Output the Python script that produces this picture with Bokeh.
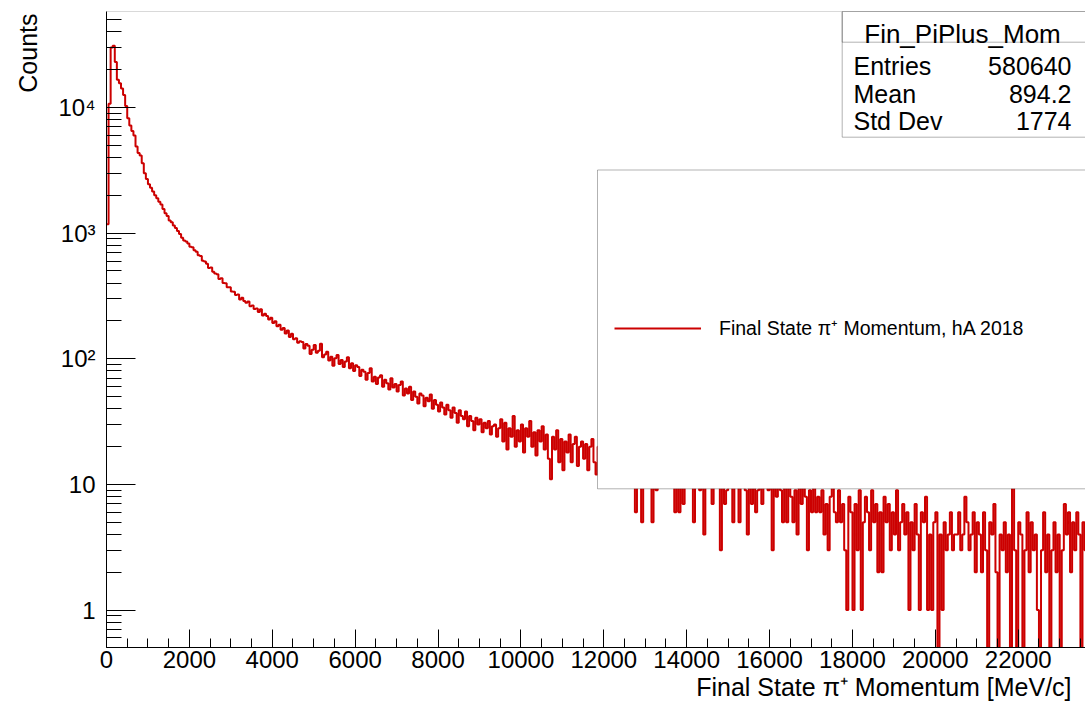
import numpy as np
from bokeh.plotting import figure
from bokeh.models import (Range1d, FixedTicker, SingleIntervalTicker, BoxAnnotation,
                          Label, Legend, LegendItem, Title)
from bokeh.embed import file_html
from bokeh.resources import INLINE

# ---- histogram: final-state pi+ momentum, 50 MeV/c bins starting at 0 ----
bin_width = 50
x_max = 23623
y_min, y_max = 0.504, 58100

# 0 - 1800 MeV/c
counts_peak = [1180, 10700, 30000, 31000, 23000, 16600, 15600, 14200, 12600, 10300,
               8200, 7200, 6500, 6000, 4900, 4350, 4150, 3600, 3000, 2700,
               2450, 2300, 2150, 2000, 1900, 1780, 1690, 1560, 1440, 1370,
               1260, 1220, 1150, 1100, 1040, 985]
# 1800 - 4700 MeV/c
counts_falloff = [918, 874, 858, 826, 781, 772, 731, 712, 668, 659,
                  603, 596, 571, 529, 534, 492, 478, 471, 431, 437,
                  402, 399, 372, 371, 343, 341, 322, 325, 297, 306,
                  288, 279, 286, 262, 266, 249, 252, 236, 248, 221,
                  228, 219, 206, 212, 193, 199, 182, 187, 170, 176,
                  159, 168, 149, 158, 143, 146, 134, 138]
# 4700 - 9500 MeV/c
counts_mid = [136, 121, 131, 127, 109, 118, 129, 112, 116, 132,
              103, 108, 114, 97, 104, 88, 101, 107, 91, 98,
              86, 95, 103, 84, 92, 80, 89, 86, 73, 82,
              79, 68, 77, 84, 66, 72, 63, 71, 74, 60,
              68, 64, 57, 70, 59, 63, 55, 62, 66, 51,
              58, 53, 60, 47, 55, 50, 44, 53, 51, 42,
              49, 46, 52, 40, 47, 43, 38, 45, 41, 36,
              43, 39, 34, 41, 37, 31, 39, 35, 33, 38,
              29, 35, 32, 27, 34, 30, 33, 26, 31, 28,
              32, 25, 29, 30, 24, 28]
# 9500 - 12900 MeV/c
counts_shoulder = [33, 22, 31, 19, 28, 24, 35, 20, 27, 22,
                   30, 18, 28, 24, 32, 20, 26, 17, 27, 22,
                   29, 19, 25, 16, 11, 24, 19, 27, 15, 23,
                   13, 22, 18, 25, 15, 21, 24, 14, 20, 22,
                   16, 21, 13, 20, 23, 15, 12, 20, 16, 22,
                   14, 19, 21, 13, 17, 20, 12, 16, 19, 14,
                   18, 11, 16, 20, 13, 6, 15, 13]
# 12900 - 23650 MeV/c
counts_tail = [5, 13, 16, 11, 14, 5, 12, 9, 15, 12,
               17, 11, 13, 10, 14, 12, 6, 11, 6, 13,
               7, 12, 15, 10, 13, 5, 11, 14, 9, 12,
               4, 11, 13, 10, 7, 12, 14, 10, 3, 11,
               7, 9, 12, 10, 5, 13, 11, 5, 10, 12,
               9, 4, 11, 7, 10, 6, 9, 12, 7, 10,
               13, 9, 11, 3, 10, 8, 12, 9, 5, 10,
               5, 11, 8, 5, 9, 4, 10, 7, 11, 8,
               3, 9, 6, 10, 6, 8, 6, 9, 4, 7,
               3, 8, 10, 6, 5, 9, 5, 7, 3, 1,
               8, 6, 1, 7, 3, 9, 1, 5, 8, 6,
               3, 9, 5, 7, 2, 6, 2, 8, 5, 7,
               3, 6, 4, 9, 3, 5, 7, 4, 6, 1,
               5, 3, 7, 4, 1, 6, 5, 8, 1, 4,
               1, 5, 6, 0, 4, 1, 5, 3, 4, 6,
               3, 4, 4, 6, 3, 4, 8, 5, 3, 4,
               6, 2, 5, 4, 2, 6, 3, 0, 5, 4,
               7, 2, 0, 4, 3, 5, 2, 4, 0, 10,
               3, 0, 5, 4, 0, 3, 6, 2, 5, 3,
               4, 1, 0, 3, 6, 2, 4, 0, 3, 5,
               2, 4, 0, 3, 7, 4, 6, 2, 5, 3,
               6, 4, 0, 5, 3]

hist_name = "Fin_PiPlus_Mom"
stat_names = ["Entries", "Mean", "Std Dev"]
stat_values = ["580640", "894.2", "1774"]
legend_label = "Final State \u03c0\u207a Momentum, hA 2018"
x_title = "Final State  \u03c0\u207a Momentum [MeV/c]"
y_title = "Counts"
y_major = [1, 10, 100, 1000, 10000]
y_major_labels = ["1", "10", "10\u00b2", "10\u00b3", "10\u2074"]

FONT = "Liberation Sans"
RED = "#cc0000"

counts = np.array(counts_peak + counts_falloff + counts_mid + counts_shoulder + counts_tail,
                  dtype=float)
edges = np.arange(len(counts) + 1) * bin_width
# empty bins drop below the bottom of the log frame
shown = np.where(counts > 0, counts, y_min / 10)
ys = np.append(shown, shown[-1])

# ---- canvas and frame geometry (pixels) ----
W, H = 1085, 705
LEFT, RIGHT, TOP, BOTTOM = 106, 0, 11, 58
FW, FH = W - LEFT - RIGHT, H - TOP - BOTTOM


def fx(cx):
    """canvas x -> frame-relative screen x"""
    return cx - LEFT


def fy(cy):
    """canvas y (from top) -> frame-relative screen y (from frame bottom)"""
    return (H - BOTTOM) - cy


p = figure(width=W, height=H, x_range=Range1d(0, x_max), y_range=Range1d(y_min, y_max),
           y_axis_type="log", output_backend="svg", toolbar_location=None,
           min_border_left=LEFT, min_border_right=RIGHT, min_border_top=TOP,
           min_border_bottom=BOTTOM)
p.outline_line_color = None
p.grid.visible = False
p.background_fill_color = "white"
p.border_fill_color = "white"

hist = p.step(x=edges, y=ys, mode="after", line_color=RED, line_width=2)

# ---- axes: ticks point into the frame ----
xa = p.xaxis[0]
xa.ticker = SingleIntervalTicker(interval=2000, num_minor_ticks=4)
xa.major_tick_in, xa.major_tick_out = 18, 0
xa.minor_tick_in, xa.minor_tick_out = 9, 0
xa.major_label_standoff = 3
xa.major_label_text_font = FONT
xa.major_label_text_font_size = "24px"
xa.major_label_text_color = "black"
xa.axis_line_color = "black"
xa.major_tick_line_color = "black"
xa.minor_tick_line_color = "black"

y_minor = [m * 10.0 ** k for k in range(-1, 5) for m in range(2, 10)]
ya = p.yaxis[0]
ya.ticker = FixedTicker(ticks=y_major, minor_ticks=y_minor)
ya.major_label_overrides = dict(zip(y_major, y_major_labels))
ya.major_tick_in, ya.major_tick_out = 29, 0
ya.minor_tick_in, ya.minor_tick_out = 15, 0
ya.major_label_standoff = 11
ya.major_label_text_font = FONT
ya.major_label_text_font_size = "24px"
ya.major_label_text_color = "black"
ya.axis_line_color = "black"
ya.major_tick_line_color = "black"
ya.minor_tick_line_color = "black"

# x title, flush with the right end of the axis
p.add_layout(Title(text=x_title, align="right", offset=7, standoff=0,
                   vertical_align="bottom", text_font=FONT, text_font_size="25px",
                   text_font_style="normal", text_color="black"), "below")

# y title, flush with the top of the axis, pushed out toward the canvas edge
p.add_layout(Title(text=y_title, align="right", offset=2, standoff=23,
                   vertical_align="top", text_font=FONT, text_font_size="25px",
                   text_font_style="normal", text_color="black"), "left")

# frame border (right edge lies past the canvas)
p.add_layout(BoxAnnotation(left=0, right=FW + 30, bottom=0, top=FH,
                           left_units="screen", right_units="screen",
                           top_units="screen", bottom_units="screen",
                           fill_color=None, line_color="black", line_width=1))

# ---- legend panel ----
p.add_layout(BoxAnnotation(left=fx(597), right=FW + 30, top=fy(169.5), bottom=fy(488.3),
                           left_units="screen", right_units="screen",
                           top_units="screen", bottom_units="screen",
                           fill_color="white", fill_alpha=1.0,
                           line_color="black", line_width=1))
legend = Legend(items=[LegendItem(label=legend_label, renderers=[hist])],
                location=(fx(614), fy(329.3) - 12), orientation="vertical",
                glyph_width=87, glyph_height=24, label_height=24, label_standoff=18,
                padding=0, margin=0, spacing=0,
                border_line_alpha=0, background_fill_alpha=0,
                label_text_font=FONT, label_text_font_size="19.5px",
                label_text_color="black")
p.add_layout(legend)

# ---- statistics panel ----
p.add_layout(BoxAnnotation(left=fx(841.7), right=FW + 30, top=FH, bottom=fy(136.7),
                           left_units="screen", right_units="screen",
                           top_units="screen", bottom_units="screen",
                           fill_color="white", fill_alpha=1.0,
                           line_color="black", line_width=1))
p.add_layout(BoxAnnotation(left=fx(841.7), right=FW + 30, top=FH, bottom=fy(41.7),
                           left_units="screen", right_units="screen",
                           top_units="screen", bottom_units="screen",
                           fill_color=None, line_color="black", line_width=1))
p.add_layout(Label(x=fx(962), y=fy(33), x_units="screen", y_units="screen",
                   text=hist_name, text_align="center", text_baseline="alphabetic",
                   text_font=FONT, text_font_size="26px", text_color="black"))
for i, (name, val) in enumerate(zip(stat_names, stat_values)):
    base = 65.5 + 27.5 * i
    p.add_layout(Label(x=fx(853), y=fy(base), x_units="screen", y_units="screen",
                       text=name, text_align="left", text_baseline="alphabetic",
                       text_font=FONT, text_font_size="25px", text_color="black"))
    p.add_layout(Label(x=fx(1071), y=fy(base), x_units="screen", y_units="screen",
                       text=val, text_align="right", text_baseline="alphabetic",
                       text_font=FONT, text_font_size="25px", text_color="black"))

open("out.html", "w").write(file_html(p, INLINE))
